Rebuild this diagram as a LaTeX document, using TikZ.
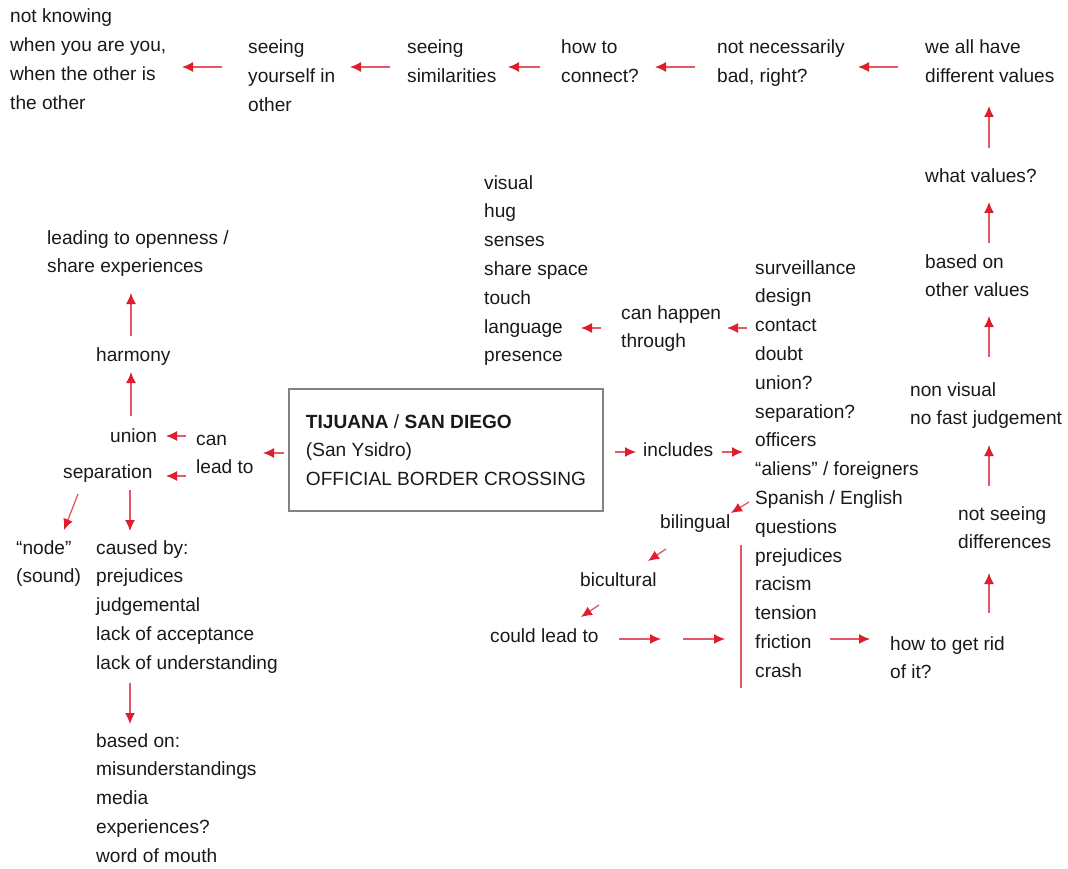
\documentclass[tikz,border=0pt]{standalone}
\usepackage{fontspec}
\setmainfont{Liberation Sans}
\usetikzlibrary{arrows.meta}
\definecolor{txt}{RGB}{25,25,25}
\definecolor{arr}{RGB}{222,30,45}
\definecolor{arrline}{RGB}{228,90,100}
\definecolor{boxgray}{RGB}{130,130,130}
\def\ls{28.8}
\tikzset{
  lbl/.style={anchor=base west, align=left, inner sep=0pt, text=txt,
    font=\fontsize{19.1}{28.8}\selectfont},
  arw/.style={draw=arrline, line width=1.3pt,
    -{Latex[length=11pt,width=10pt,color=arr]}},
  bar/.style={draw=arrline, line width=1.3pt}
}
\begin{document}
\begin{tikzpicture}[x=1pt,y=-1pt]
\useasboundingbox (0,0) rectangle (1068,869);
% top row (position = baseline of the LAST line)
\node[lbl] (t1) at (10,{23+3*\ls}) {not knowing\\when you are you,\\when the other is\\the other};
\node[lbl] (t2) at (248,{54+2*\ls}) {seeing\\yourself in\\other};
\node[lbl] (t3) at (407,{54+\ls}) {seeing\\similarities};
\node[lbl] (t4) at (561,{54+\ls}) {how to\\connect?};
\node[lbl] (t5) at (717,{54+\ls}) {not necessarily\\bad, right?};
\node[lbl] (t6) at (925,{54+\ls}) {we all have\\different values};
% right column
\node[lbl] (t7) at (925,183) {what values?};
\node[lbl] (t8) at (925,{268+\ls}) {based on\\other values};
\node[lbl] (t9) at (910,{396+\ls}) {non visual\\no fast judgement};
\node[lbl] (t10) at (958,{520+\ls}) {not seeing\\differences};
\node[lbl] (t11) at (890,{650+\ls}) {how to get rid\\of it?};
% middle list
\node[lbl] (list) at (755,{274+14*\ls}) {surveillance\\design\\contact\\doubt\\union?\\separation?\\officers\\“aliens” / foreigners\\Spanish / English\\questions\\prejudices\\racism\\tension\\friction\\crash};
\node[lbl] (chp) at (621,{319+\ls}) {can happen\\through};
\node[lbl] (senses) at (484,{189+6*\ls}) {visual\\hug\\senses\\share space\\touch\\language\\presence};
% box
\node[draw=boxgray, line width=1.5pt, minimum width=314pt, minimum height=122pt,
  align=left, inner sep=0pt, text=txt, font=\fontsize{19.1}{28.8}\selectfont]
  (box) at (446,450) {\textbf{TIJUANA} / \textbf{SAN DIEGO}\\(San Ysidro)\\OFFICIAL BORDER CROSSING};
\node[lbl] (inc) at (643,456) {includes};
\node[lbl] (canlead) at (196,{445+\ls}) {can\\lead to};
\node[lbl] (union) at (110,442) {union};
\node[lbl] (sep) at (63,478) {separation};
\node[lbl] (harmony) at (96,361) {harmony};
\node[lbl] (open) at (47,{244+\ls}) {leading to openness /\\share experiences};
\node[lbl] (nodeq) at (16,{554+\ls}) {“node”\\(sound)};
\node[lbl] (caused) at (96,{554+4*\ls}) {caused by:\\prejudices\\judgemental\\lack of acceptance\\lack of understanding};
\node[lbl] (based) at (96,{747+4*\ls}) {based on:\\misunderstandings\\media\\experiences?\\word of mouth};
\node[lbl] (biling) at (660,528) {bilingual};
\node[lbl] (bicult) at (580,586) {bicultural};
\node[lbl] (could) at (490,642) {could lead to};
% arrow end coordinates
\coordinate (a1s) at (222,67); \coordinate (a1e) at (182,67);
\coordinate (a2s) at (390,67); \coordinate (a2e) at (350,67);
\coordinate (a3s) at (540,67); \coordinate (a3e) at (508,67);
\coordinate (a4s) at (695,67); \coordinate (a4e) at (655,67);
\coordinate (a5s) at (898,67); \coordinate (a5e) at (858,67);
\coordinate (u1s) at (989,148); \coordinate (u1e) at (989,106);
\coordinate (u2s) at (989,243); \coordinate (u2e) at (989,202);
\coordinate (u3s) at (989,357); \coordinate (u3e) at (989,316);
\coordinate (u4s) at (989,486); \coordinate (u4e) at (989,445);
\coordinate (u5s) at (989,613); \coordinate (u5e) at (989,573);
\coordinate (r1s) at (830,639); \coordinate (r1e) at (870,639);
\coordinate (c1s) at (619,639); \coordinate (c1e) at (661,639);
\coordinate (c2s) at (683,639); \coordinate (c2e) at (725,639);
\coordinate (d1s) at (749,502); \coordinate (d1e) at (731,513);
\coordinate (d2s) at (666,549); \coordinate (d2e) at (648,561);
\coordinate (d3s) at (599,605); \coordinate (d3e) at (581,617);
\coordinate (k1s) at (747,328); \coordinate (k1e) at (727,328);
\coordinate (k2s) at (601,328); \coordinate (k2e) at (581,328);
\coordinate (i1s) at (615,452); \coordinate (i1e) at (636,452);
\coordinate (i2s) at (722,452); \coordinate (i2e) at (743,452);
\coordinate (b1s) at (284,453); \coordinate (b1e) at (263,453);
\coordinate (l1s) at (186,436); \coordinate (l1e) at (166,436);
\coordinate (l2s) at (186,476); \coordinate (l2e) at (166,476);
\coordinate (h1s) at (131,416); \coordinate (h1e) at (131,372);
\coordinate (h2s) at (131,336); \coordinate (h2e) at (131,293);
\coordinate (s1s) at (78,494); \coordinate (s1e) at (64,530);
\coordinate (s2s) at (130,490); \coordinate (s2e) at (130,531);
\coordinate (s3s) at (130,683); \coordinate (s3e) at (130,724);
\coordinate (vb1) at (741,545); \coordinate (vb2) at (741,688);
% arrows
\foreach \a in {a1,a2,a3,a4,a5,u1,u2,u3,u4,u5,r1,c1,c2,d1,d2,d3,k1,k2,i1,i2,b1,l1,l2,h1,h2,s1,s2,s3}
  \draw[arw] (\a s) -- (\a e);
\draw[bar] (vb1) -- (vb2);
\end{tikzpicture}
\end{document}
